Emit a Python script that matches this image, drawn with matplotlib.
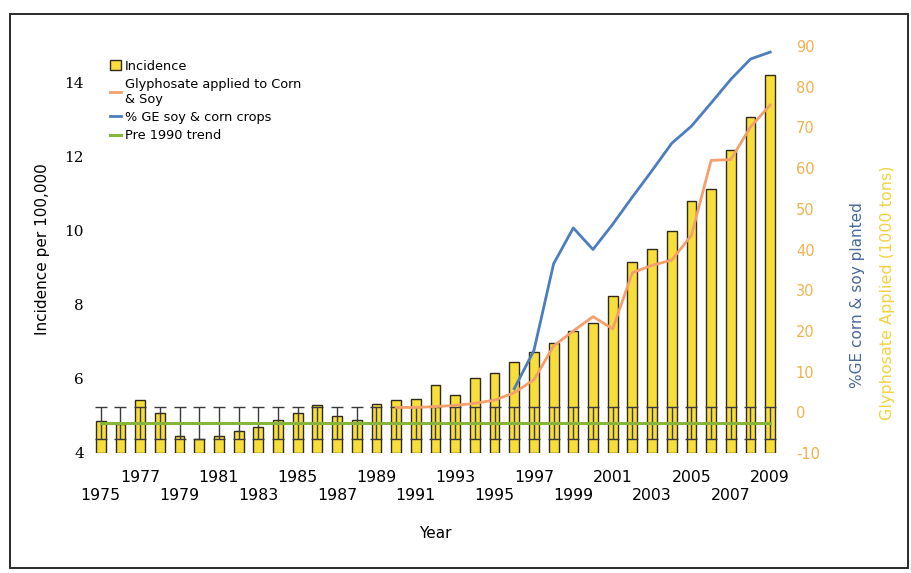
import matplotlib
matplotlib.use("Agg")
import matplotlib.pyplot as plt
from matplotlib.patches import Rectangle

# ---------------- data ----------------
years = list(range(1975, 2010))
incidence = [4.87, 4.79, 5.44, 5.07, 4.45, 4.37, 4.46, 4.60, 4.71, 4.90,
             5.07, 5.29, 4.99, 4.89, 5.33, 5.44, 5.45, 5.83, 5.56, 6.03,
             6.17, 6.47, 6.74, 6.96, 7.30, 7.51, 8.25, 9.15, 9.51, 10.00,
             10.80, 11.13, 12.19, 13.09, 14.22]

gly_years = list(range(1990, 2010))
glyphosate = [1.2, 1.2, 1.4, 1.7, 2.2, 3.0, 4.8, 8.0, 16.3, 20.0,
              23.5, 20.5, 34.3, 36.1, 37.4, 43.5, 61.9, 62.1, 70.1, 75.5]

ge_years = list(range(1996, 2010))
ge_percent = [5.8, 15.2, 36.5, 45.3, 40.0, 46.2, 52.9, 59.4, 66.1, 70.3,
              76.0, 81.8, 86.8, 88.5]

trend_level = 4.82
trend_err = 0.43

top_row_years = [1977, 1981, 1985, 1989, 1993, 1997, 2001, 2005, 2009]
bottom_row_years = [1975, 1979, 1983, 1987, 1991, 1995, 1999, 2003, 2007]
left_ticks = [4, 6, 8, 10, 12, 14]
right_ticks = [-10, 0, 10, 20, 30, 40, 50, 60, 70, 80, 90]

# ---------------- colours ----------------
bar_color = "#F8DE3A"
orange = "#F3A06C"
blue = "#4C7DBF"
green = "#86B53A"
right_tick_color = "#F0B24E"
yellow_label = "#F3D23E"
blue_label = "#46699C"

fig = plt.figure(figsize=(9.12, 5.73), dpi=100)
ax = fig.add_axes([88 / 912, 1 - 453 / 573, (782 - 88) / 912, (453 - 46) / 573])
ax2 = ax.twinx()

# bars
ax.bar(years, [v - 4 for v in incidence], bottom=4, width=0.5,
       color=bar_color, edgecolor="#2e2a1a", linewidth=1.0, zorder=2,
       label="Incidence")

# trend with error bars
n = len(years)
ax.errorbar(years, [trend_level] * n, yerr=trend_err, fmt="none",
            ecolor="#3a3a3a", elinewidth=1.0, capsize=4, capthick=1.0, zorder=3)
ax.plot([years[0], years[-1]], [trend_level, trend_level], color=green,
        linewidth=2.2, zorder=4, label="Pre 1990 trend")

# right-axis lines
ax2.plot(gly_years, glyphosate, color=orange, linewidth=2.0, zorder=5,
         label="Glyphosate applied to Corn\n& Soy")
ax2.plot(ge_years, ge_percent, color=blue, linewidth=2.0, zorder=5,
         label="% GE soy & corn crops")

ax.set_xlim(1974.35, 2009.6)
ax.set_ylim(4, 15)
ax2.set_ylim(-10, 90)

for a in (ax, ax2):
    for s in a.spines.values():
        s.set_visible(False)

ax.set_yticks(left_ticks)
ax.set_yticklabels([str(t) for t in left_ticks], fontfamily="DejaVu Serif",
                   fontsize=11)
ax.tick_params(axis="y", length=0, pad=3)

ax2.set_yticks(right_ticks)
ax2.set_yticklabels([str(t) for t in right_ticks], fontsize=10.5,
                    color=right_tick_color)
ax2.tick_params(axis="y", length=0, pad=10)

xt = sorted(top_row_years + bottom_row_years)
xl = [str(y) if y in top_row_years else "\n" + str(y) for y in xt]
ax.set_xticks(xt)
ax.set_xticklabels(xl, fontsize=11.3, linespacing=1.25)
ax.tick_params(axis="x", length=0, pad=12)

ax.set_xlabel("Year", fontsize=11, labelpad=17)
ax.set_ylabel("Incidence per 100,000", fontsize=11, labelpad=10)

fig.text(858 / 912, 1 - 295 / 573, "%GE corn & soy planted", rotation=90,
         color=blue_label, fontsize=11, ha="center", va="center")
fig.text(888 / 912, 1 - 293 / 573, "Glyphosate Applied (1000 tons)",
         rotation=90, color=yellow_label, fontsize=11.5, ha="center",
         va="center")

# legend
h1, l1 = ax.get_legend_handles_labels()
h2, l2 = ax2.get_legend_handles_labels()
hd = dict(zip(l1 + l2, h1 + h2))
order = ["Incidence", "Glyphosate applied to Corn\n& Soy",
         "% GE soy & corn crops", "Pre 1990 trend"]
leg = ax2.legend([hd[k] for k in order], order, loc="upper left",
                 bbox_to_anchor=(0.02, 0.985), frameon=False, fontsize=9.3,
                 handlelength=0.9, handleheight=0.8, handletextpad=0.3,
                 labelspacing=0.4, borderaxespad=0.2)

# outer border (scanned page frame)
fig.patches.append(Rectangle((10 / 912, 1 - 568 / 573), 898 / 912,
                             (568 - 14) / 573, transform=fig.transFigure,
                             fill=False, edgecolor="#2a2a2a", linewidth=1.4))

fig.savefig("out.png", dpi=100)
